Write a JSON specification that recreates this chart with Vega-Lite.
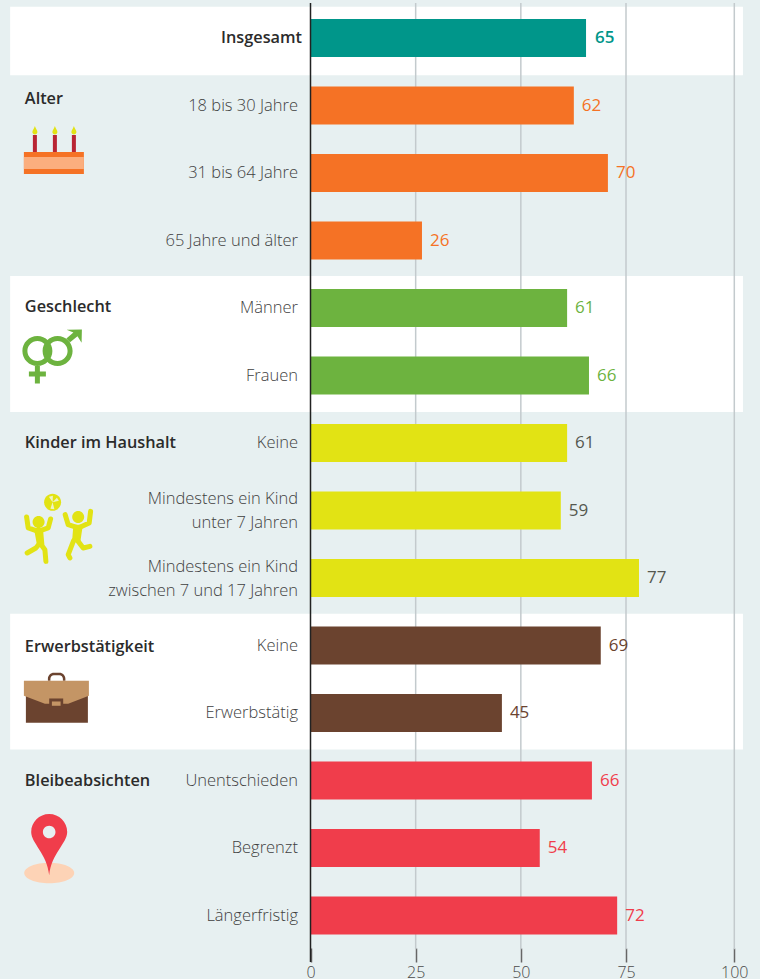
{
"$schema":"https://vega.github.io/schema/vega-lite/v6.json",
"width":760,"height":979,"autosize":{"type":"none"},"padding":0,
"background":"#e7f0f1",
"config":{"view":{"stroke":null},"font":"Open Sans"},
"datasets":{
"rows":[
{"pos":0.5,"label":"Insgesamt","group":"Insgesamt","value":65.5,"shown":65},
{"pos":1.5,"label":"18 bis 30 Jahre","group":"Alter","value":62.6,"shown":62},
{"pos":2.5,"label":"31 bis 64 Jahre","group":"Alter","value":70.7,"shown":70},
{"pos":3.5,"label":"65 Jahre und älter","group":"Alter","value":26.5,"shown":26},
{"pos":4.5,"label":"Männer","group":"Geschlecht","value":61,"shown":61},
{"pos":5.5,"label":"Frauen","group":"Geschlecht","value":66.2,"shown":66},
{"pos":6.5,"label":"Keine","group":"Kinder im Haushalt","value":61,"shown":61},
{"pos":7.5,"label":"Mindestens ein Kind\nunter 7 Jahren","group":"Kinder im Haushalt","value":59.5,"shown":59},
{"pos":8.5,"label":"Mindestens ein Kind\nzwischen 7 und 17 Jahren","group":"Kinder im Haushalt","value":78,"shown":77},
{"pos":9.5,"label":"Keine\u00a0","group":"Erwerbstätigkeit","value":69,"shown":69},
{"pos":10.5,"label":"Erwerbstätig","group":"Erwerbstätigkeit","value":45.5,"shown":45},
{"pos":11.5,"label":"Unentschieden","group":"Bleibeabsichten","value":66.9,"shown":66},
{"pos":12.5,"label":"Begrenzt","group":"Bleibeabsichten","value":54.5,"shown":54},
{"pos":13.5,"label":"Längerfristig","group":"Bleibeabsichten","value":72.9,"shown":72}
],
"bands":[
{"from":-71.4,"to":102,"top":0.036,"bottom":1.05},
{"from":-71.4,"to":102,"top":4.027,"bottom":6.04},
{"from":-71.4,"to":102,"top":9.03,"bottom":11.04}
],
"titles":[
{"pos":1.404,"title":"Alter"},
{"pos":4.486,"title":"Geschlecht"},
{"pos":6.5,"title":"Kinder im Haushalt"},
{"pos":9.52,"title":"Erwerbstätigkeit"},
{"pos":11.5,"title":"Bleibeabsichten"}
],
"grid":[{"tick":25,"top":-0.02,"bottom":14},{"tick":50,"top":-0.02,"bottom":14},{"tick":75,"top":-0.02,"bottom":14},{"tick":100,"top":-0.02,"bottom":14}],
"zero":[{"tick":0,"top":-0.02,"bottom":14.19}],
"icons":[
{"part":"cake-base","pos":2.16},
{"part":"cake-stripe","pos":2.16},
{"part":"cake-candles","pos":2.16},
{"part":"cake-flames","pos":2.16},
{"part":"gender","pos":5.02},
{"part":"ball","pos":7.71},
{"part":"ball-wedge","pos":7.71},
{"part":"kids","pos":7.71},
{"part":"case-handle","pos":10.23},
{"part":"case-body","pos":10.23},
{"part":"case-flap","pos":10.23},
{"part":"case-clasp","pos":10.23},
{"part":"case-inner","pos":10.23},
{"part":"pin-shadow","pos":12.46},
{"part":"pin","pos":12.46}
],
"limbs":[{"part":"limbs","pos":7.71}]
},
"layer":[
{"data":{"name":"bands"},"mark":{"type":"rect","color":"#ffffff"},
"encoding":{
"x":{"field":"from","type":"quantitative","title":null,
"axis":{"values":[0,25,50,75,100],"orient":"bottom","offset":-31,"domain":false,"grid":false,"tickSize":14,"tickColor":"#666666","tickWidth":1.5,"labelFontSize":16,"labelColor":"#4a4a4a","labelPadding":2,"labelFont":"Open Sans","labelFontWeight":300,"labelBound":false,"labelFlush":false,"labelOverlap":false,"format":"d"},
"scale":{"domain":[0,75,100],"range":[310.5,626,734.3]}},
"x2":{"field":"to"},
"y":{"field":"top","type":"quantitative","title":null,"axis":null,"scale":{"domain":[0,14],"range":[4.25,949.25],"padding":0,"nice":false,"zero":false}},
"y2":{"field":"bottom"}}},
{"data":{"name":"grid"},"mark":{"type":"rule","color":"#c3cacd","strokeWidth":1.5},
"encoding":{
"x":{"field":"tick","type":"quantitative","title":null},
"y":{"field":"top","type":"quantitative","title":null},
"y2":{"field":"bottom"}}},
{"data":{"name":"rows"},"mark":{"type":"bar","orient":"horizontal","size":38},
"encoding":{
"x":{"field":"value","type":"quantitative","title":null,"stack":null},
"y":{"field":"pos","type":"quantitative","title":null},
"color":{"field":"group","type":"nominal","legend":null,"scale":{"domain":["Insgesamt","Alter","Geschlecht","Kinder im Haushalt","Erwerbstätigkeit","Bleibeabsichten"],"range":["#00968a","#f57225","#6db33f","#e2e314","#6b432f","#f03d4b"]}}}},
{"data":{"name":"zero"},"mark":{"type":"rule","color":"#222222","strokeWidth":1.5},
"encoding":{
"x":{"field":"tick","type":"quantitative","title":null},
"y":{"field":"top","type":"quantitative","title":null},
"y2":{"field":"bottom"}}},
{"data":{"name":"rows"},"transform":[{"filter":"datum.group !== 'Insgesamt'"}],
"mark":{"type":"text","align":"left","baseline":"middle","dx":8,"fontSize":17,"fontWeight":500,"font":"Open Sans"},
"encoding":{
"x":{"field":"value","type":"quantitative","title":null},
"y":{"field":"pos","type":"quantitative","title":null},
"text":{"field":"shown","type":"quantitative"},
"color":{"field":"group","type":"nominal","legend":null,"scale":{"domain":["Insgesamt","Alter","Geschlecht","Kinder im Haushalt","Erwerbstätigkeit","Bleibeabsichten"],"range":["#00968a","#f57225","#6db33f","#55584f","#6b432f","#f03d4b"]}}}},
{"data":{"name":"rows"},"transform":[{"filter":"datum.group === 'Insgesamt'"}],
"mark":{"type":"text","align":"left","baseline":"middle","dx":9,"fontSize":17,"fontWeight":600,"font":"Open Sans","color":"#00968a"},
"encoding":{
"x":{"field":"value","type":"quantitative","title":null},
"y":{"field":"pos","type":"quantitative","title":null},
"text":{"field":"shown","type":"quantitative"}}},
{"data":{"name":"rows"},"transform":[{"filter":"datum.group !== 'Insgesamt' && datum.pos !== 7.5 && datum.pos !== 8.5"}],
"mark":{"type":"text","align":"right","baseline":"middle","dx":-12.5,"fontSize":16.5,"fontWeight":300,"font":"Open Sans","color":"#3f3f3f"},
"encoding":{
"x":{"datum":0,"type":"quantitative","title":null},
"y":{"field":"pos","type":"quantitative","title":null},
"text":{"field":"label","type":"nominal"}}},
{"data":{"name":"rows"},"transform":[{"filter":"datum.pos === 7.5 || datum.pos === 8.5"}],
"mark":{"type":"text","align":"right","baseline":"middle","dx":-12.5,"dy":-11.5,"fontSize":16.5,"fontWeight":300,"font":"Open Sans","color":"#3f3f3f","lineBreak":"\n","lineHeight":24},
"encoding":{
"x":{"datum":0,"type":"quantitative","title":null},
"y":{"field":"pos","type":"quantitative","title":null},
"text":{"field":"label","type":"nominal"}}},
{"data":{"name":"rows"},"transform":[{"filter":"datum.group === 'Insgesamt'"}],
"mark":{"type":"text","align":"right","baseline":"middle","dx":-8.5,"fontSize":16.3,"fontWeight":600,"font":"Open Sans","color":"#2b2b2b"},
"encoding":{
"x":{"datum":0,"type":"quantitative","title":null},
"y":{"field":"pos","type":"quantitative","title":null},
"text":{"field":"label","type":"nominal"}}},
{"data":{"name":"titles"},
"mark":{"type":"text","align":"left","baseline":"middle","fontSize":16.3,"fontWeight":600,"font":"Open Sans","color":"#2b2b2b"},
"encoding":{
"x":{"datum":-67.9,"type":"quantitative","title":null},
"y":{"field":"pos","type":"quantitative","title":null},
"text":{"field":"title","type":"nominal"}}},
{"data":{"name":"icons"},
"mark":{"type":"point","filled":true,"opacity":1,"size":4,"strokeWidth":0},
"encoding":{
"x":{"datum":-61,"type":"quantitative","title":null},
"y":{"field":"pos","type":"quantitative","title":null},
"shape":{"field":"part","type":"nominal","legend":null,"scale":{
"domain":["cake-base","cake-stripe","cake-candles","cake-flames","gender","ball","ball-wedge","kids","case-handle","case-body","case-flap","case-clasp","case-inner","pin-shadow","pin"],
"range":[
"M-30 2H30V24H-30Z",
"M-30 7H30V19H-30Z",
"M-21 -15H-17V2H-21Z M-1 -15H3V2H-1Z M18 -15H22V2H18Z",
"M-19 -24C-18 -21 -16.5 -20 -16.5 -18A2.5 2.5 0 0 1 -21.5 -18C-21.5 -20 -20 -21 -19 -24Z M1 -24C2 -21 3.5 -20 3.5 -18A2.5 2.5 0 0 1 -1.5 -18C-1.5 -20 0 -21 1 -24Z M20 -24C21 -21 22.5 -20 22.5 -18A2.5 2.5 0 0 1 17.5 -18C17.5 -20 19 -21 20 -24Z",
"M-31.5 8A15 15 0 1 1 -1.5 8A15 15 0 1 1 -31.5 8Z M-26.5 8A10 10 0 1 0 -6.5 8A10 10 0 1 0 -26.5 8Z M-11.3 8A15 15 0 1 1 18.7 8A15 15 0 1 1 -11.3 8Z M-6.3 8A10 10 0 1 0 13.7 8A10 10 0 1 0 -6.3 8Z M-19 22H-14V28.5H-8V33.5H-14V40.5H-19V33.5H-25V28.5H-19Z M12.5 -4.5L19.5 -10.5L12.7 -13.3L28 -13.7L27.7 -0.3L23.6 -6.8L16.2 -0.8Z",
"M-9.8 -22.3A8.5 8.5 0 1 1 7.2 -22.3A8.5 8.5 0 1 1 -9.8 -22.3Z",
"M-1.3 -22.3L-5 -28L-1 -29ZM-1.3 -22.3L3 -27L5 -24ZM-1.3 -22.3L-3.5 -16L0.5 -15.5Z",
"M-21.3 -2.7A6 6 0 1 1 -9.3 -2.7A6 6 0 1 1 -21.3 -2.7Z M18.3 -7.7A6 6 0 1 1 30.3 -7.7A6 6 0 1 1 18.3 -7.7Z M-20 3.3L-11 3.3L-9.5 20L-17 20Z M19.5 0L29 0L26.5 16.7L18.2 16.7Z",
"M-6 -14V-16A6 6 0 0 1 0 -22H5.5A6 6 0 0 1 11.5 -16V-14H9V-16A3.5 3.5 0 0 0 5.5 -19.5H0A3.5 3.5 0 0 0 -3.5 -16V-14Z",
"M-28 -5H34V28H-28Z",
"M-30 -14H35V1L14.3 9H-9L-30 1Z",
"M-4.7 3.7H9.3V11.7H-4.7Z",
"M-2 6.7H6.7V11H-2Z",
"M-29.7 27.7A25 10.3 0 1 1 20.3 27.7A25 10.3 0 1 1 -29.7 27.7Z",
"M-22.7 -13.3A18 18 0 0 1 13.3 -13.3C13.3 -2 -2.5 8 -4.7 30C-6.9 8 -22.7 -2 -22.7 -13.3Z M-11 -13.3A6.3 6.3 0 0 0 1.6 -13.3A6.3 6.3 0 0 0 -11 -13.3Z"
]}},
"color":{"field":"part","type":"nominal","legend":null,"scale":{
"domain":["cake-base","cake-stripe","cake-candles","cake-flames","gender","ball","ball-wedge","kids","case-handle","case-body","case-flap","case-clasp","case-inner","pin-shadow","pin"],
"range":["#f57225","#fbae7e","#b92534","#e2e314","#6db33f","#e2e314","#eef3c8","#e2e314","#6b432f","#6b432f","#c49565","#6b432f","#c49565","#fdd3b6","#f03d4b"]}}}},
{"data":{"name":"limbs"},
"mark":{"type":"point","filled":false,"opacity":1,"size":4,"color":"#e2e314","strokeWidth":5,"strokeCap":"round","strokeJoin":"round","shape":"M-27.3 -7.7L-25.7 3.3L-15.7 6.7L-5.7 3.3L-3.3 -5.7M-14 18.3L-18 23.3L-26.7 28.3M-14 18.3L-9 25L-8 36.7M11.3 -10L14.3 0L24.3 3.3L35.3 -1.7L36.7 -13.3M19.7 16L14.3 30L16 33.3M24.3 16.7L29.3 23.3L36 21.7"},
"encoding":{
"x":{"datum":-61,"type":"quantitative","title":null},
"y":{"field":"pos","type":"quantitative","title":null}}}
],
"resolve":{"scale":{"color":"independent"}}
}
